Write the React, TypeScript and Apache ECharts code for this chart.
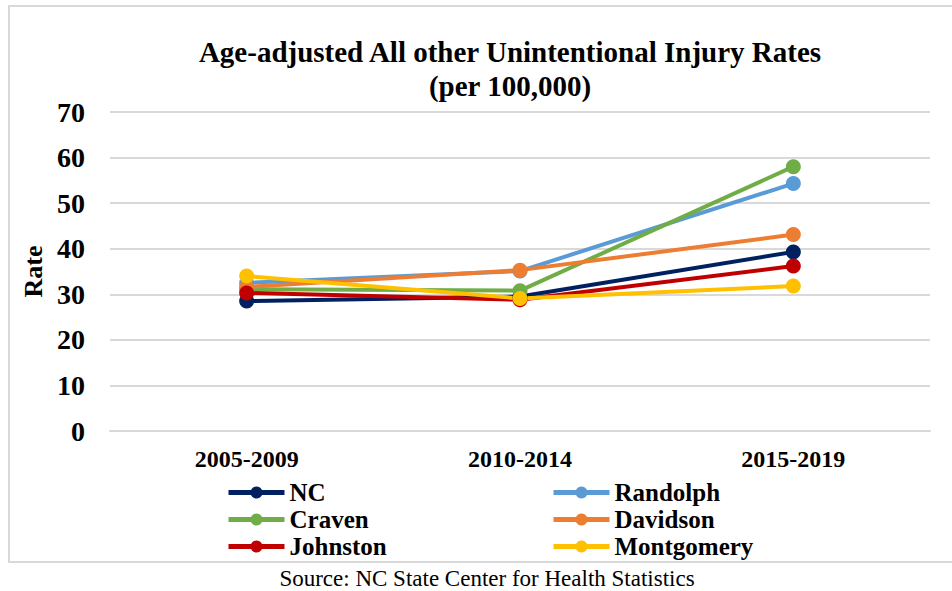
import React, { useEffect, useRef } from "react";
import * as echarts from "echarts";

const categories = ["2005-2009", "2010-2014", "2015-2019"];
const seriesNames = ["NC", "Randolph", "Craven", "Davidson", "Johnston", "Montgomery"];
const colors = ["#002060", "#5B9BD5", "#70AD47", "#ED7D31", "#C00000", "#FFC000"];
const ncValues = [28.5, 29.5, 39.3];
const randolphValues = [32.5, 35.1, 54.3];
const cravenValues = [31.1, 30.8, 58.0];
const davidsonValues = [31.6, 35.3, 43.1];
const johnstonValues = [30.3, 28.8, 36.2];
const montgomeryValues = [34.0, 29.1, 31.8];
const allValues = [ncValues, randolphValues, cravenValues, davidsonValues, johnstonValues, montgomeryValues];

const FONT = "'Liberation Serif', 'Times New Roman', serif";

export default function App() {
  const ref = useRef<HTMLDivElement>(null);
  useEffect(() => {
    if (!ref.current) return;
    const chart = echarts.init(ref.current, null, { renderer: "svg" });
    const legendText = { fontFamily: FONT, fontWeight: "bold", fontSize: 25, color: "#000", lineHeight: 27 };
    const legendCommon = {
      orient: "vertical",
      top: 479,
      itemWidth: 56,
      itemHeight: 15,
      itemGap: 0,
      padding: 0,
      textStyle: legendText,
      lineStyle: { width: 5 },
    };
    chart.setOption({
      animation: false,
      backgroundColor: "#fff",
      title: {
        text: "Age-adjusted All other Unintentional Injury Rates\n(per 100,000)",
        left: 505,
        textAlign: "center",
        top: 30,
        textStyle: { fontFamily: FONT, fontWeight: "bold", fontSize: 29, color: "#000", lineHeight: 34 },
      },
      grid: { left: 110, right: 22, top: 112, bottom: 160 },
      xAxis: {
        type: "category",
        data: categories,
        boundaryGap: true,
        axisLine: { show: true, lineStyle: { color: "#d9d9d9", width: 2 } },
        axisTick: { show: false },
        axisLabel: { fontFamily: FONT, fontWeight: "bold", fontSize: 24, color: "#000", margin: 16 },
      },
      yAxis: {
        type: "value",
        min: 0,
        max: 70,
        interval: 10,
        name: "Rate",
        nameLocation: "middle",
        nameGap: 62,
        nameRotate: 90,
        nameTextStyle: { fontFamily: FONT, fontWeight: "bold", fontSize: 26, color: "#000" },
        axisLine: { show: false },
        axisTick: { show: false },
        splitLine: { lineStyle: { color: "#d9d9d9", width: 2 } },
        axisLabel: { fontFamily: FONT, fontWeight: "bold", fontSize: 28, color: "#000", margin: 25 },
      },
      legend: [
        { ...legendCommon, left: 226, data: [seriesNames[0], seriesNames[2], seriesNames[4]] },
        { ...legendCommon, left: 551, data: [seriesNames[1], seriesNames[3], seriesNames[5]] },
      ],
      graphic: [
        {
          type: "rect",
          shape: { x: 9, y: 6, width: 960, height: 556 },
          style: { fill: "none", stroke: "#d9d9d9", lineWidth: 2 },
          silent: true,
        },
        {
          type: "text",
          x: 487,
          y: 578,
          style: {
            text: "Source: NC State Center for Health Statistics",
            font: `23px ${FONT}`,
            fill: "#000",
            textAlign: "center",
            textVerticalAlign: "middle",
          },
        },
      ],
      series: seriesNames.map((name, i) => ({
        name,
        type: "line",
        data: allValues[i],
        color: colors[i],
        lineStyle: { width: 4, color: colors[i] },
        itemStyle: { color: colors[i] },
        symbol: "circle",
        symbolSize: 15,
      })),
    });
    return () => chart.dispose();
  }, []);
  return <div ref={ref} style={{ position: "absolute", left: 0, top: 0, width: 952, height: 591 }} />;
}
